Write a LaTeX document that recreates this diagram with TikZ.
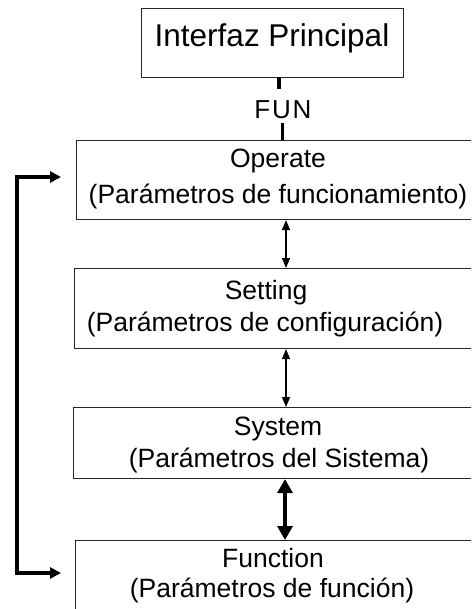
\documentclass[tikz,border=0pt]{standalone}
\usepackage{fontspec}
\setmainfont{Liberation Sans}
\usetikzlibrary{arrows.meta}
\begin{document}
\begin{tikzpicture}[x=1pt,y=-1pt,
  boxframe/.style={draw=black!85,line width=1.1pt,rectangle,inner sep=0pt,anchor=north west},
  txt/.style={anchor=base,inner sep=0pt,font=\fontsize{26.5pt}{32pt}\selectfont},
  bigtxt/.style={anchor=base,inner sep=0pt,font=\fontsize{31.5pt}{36pt}\selectfont},
  thinarrow/.style={line width=1.3pt,{Triangle[length=10pt,width=8pt]}-{Triangle[length=10pt,width=8pt]}},
  thickarrow/.style={line width=3.6pt,{Triangle[length=14pt,width=15pt]}-{Triangle[length=14pt,width=15pt]}},
  looparrow/.style={line width=3.5pt,{Triangle[length=11pt,width=11pt]}-{Triangle[length=11pt,width=11pt]}},
  tick/.style={line width=3.6pt}]
\useasboundingbox (0,0) rectangle (471,609);
\clip (0,0) rectangle (471,609);
% boxes
\node[boxframe,minimum width=262pt,minimum height=69pt] (ip) at (141,8) {};
\node[boxframe,minimum width=404pt,minimum height=79pt] (op) at (76,140) {};
\node[boxframe,minimum width=404pt,minimum height=80pt] (st) at (74,268) {};
\node[boxframe,minimum width=406pt,minimum height=71pt] (sy) at (73,407) {};
\node[boxframe,minimum width=404pt,minimum height=90pt] (fn) at (75,540) {};
% texts
\node[bigtxt] (iptxt) at (272,47) {Interfaz Principal};
\node[txt,font=\fontsize{26pt}{30pt}\selectfont] (fun) at (283,119) {F\kern1.8pt U\kern1.8pt N};
\node[txt] (op1) at (278,168) {Operate};
\node[txt] (op2) at (278,204) {(Parámetros de funcionamiento)};
\node[txt] (st1) at (266,299) {Setting};
\node[txt] (st2) at (265,331) {(Parámetros de configuración)};
\node[txt] (sy1) at (278,435) {System};
\node[txt] (sy2) at (279,467) {(Parámetros del Sistema)};
\node[txt] (fn1) at (273,567) {Function};
\node[txt] (fn2) at (272,597) {(Parámetros de función)};
% FUN ticks
\coordinate (t1a) at (279,77);
\coordinate (t1b) at (279,89);
\coordinate (t2a) at (282.5,123);
\coordinate (t2b) at (282.5,140);
\draw[tick] (t1a) -- (t1b);
\draw[line width=3.2pt] (t2a) -- (t2b);
% vertical arrows
\draw[thinarrow] (op.south -| 286,0) -- (st.north -| 286,0);
\draw[thinarrow] (st.south -| 286,0) -- (sy.north -| 286,0);
\draw[thickarrow] (sy.south -| 285,0) -- (fn.north -| 285,0);
% loop arrow
\coordinate (optip) at (61,177);
\coordinate (fntip) at (61,573);
\coordinate (lt) at (17,177);
\coordinate (lb) at (17,573);
\draw[looparrow,line join=miter] (optip) -- (lt) -- (lb) -- (fntip);
\end{tikzpicture}
\end{document}
